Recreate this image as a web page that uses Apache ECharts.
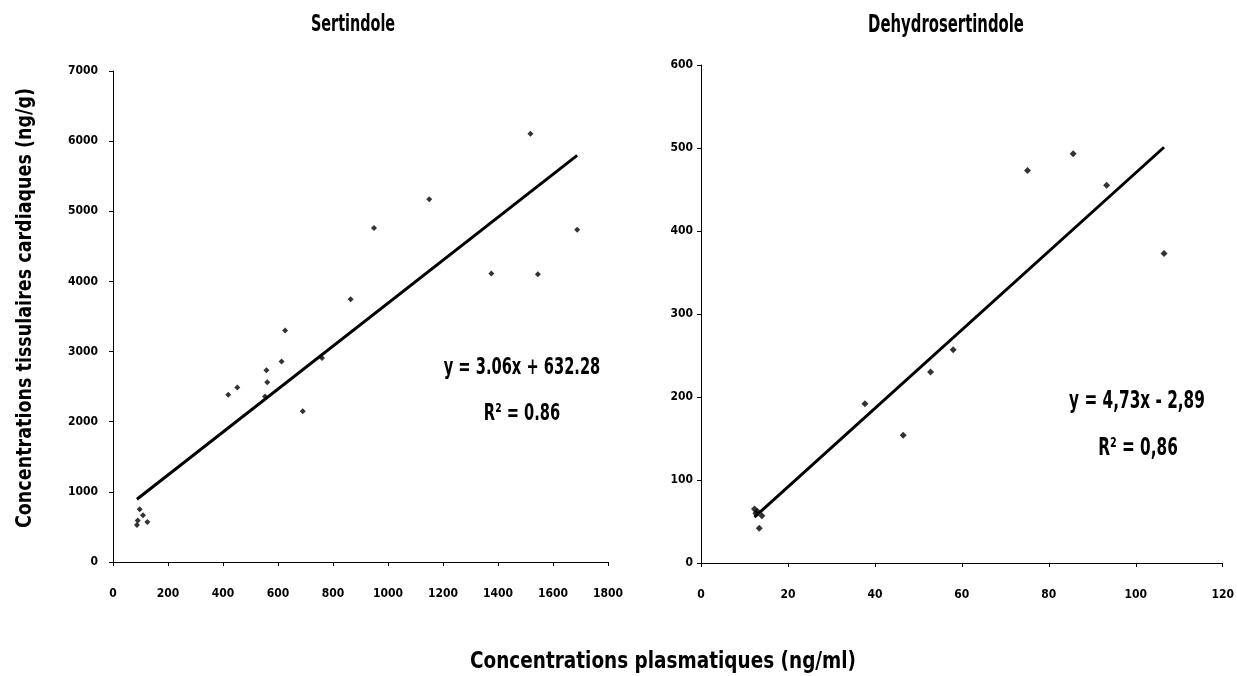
<!DOCTYPE html>
<html>
<head>
<meta charset="utf-8">
<script src="https://cdn.jsdelivr.net/npm/echarts@6/dist/echarts.min.js"></script>
<style>
html,body{margin:0;padding:0;background:#fff;}
#c{width:1237px;height:676px;}
</style>
</head>
<body>
<div id="c"></div>
<script>
// Sertindole: plasma (ng/ml) vs cardiac tissue (ng/g)
const sertX = [1518, 1150, 949, 1688, 1376, 1545, 864, 626, 613, 760, 558, 561, 553, 452, 419, 690, 97, 109, 90, 125, 87];
const sertY = [6105, 5170, 4763, 4738, 4113, 4102, 3747, 3299, 2857, 2908, 2735, 2562, 2359, 2486, 2384, 2150, 752, 666, 590, 569, 529];
const sertTrendX = [87, 1688];
const sertTrendY = [895, 5798];

// Dehydrosertindole
const dehX = [85.6, 75.1, 93.3, 106.5, 58.0, 52.8, 37.7, 46.5, 12.3, 13.0, 14.0, 13.4, 12.6];
const dehY = [493, 473, 455, 373, 257, 230, 192, 154, 65, 62, 57, 42, 60];
const dehTrendX = [12.3, 106.5];
const dehTrendY = [55.3, 500.9];

const titles = ['Sertindole', 'Dehydrosertindole'];
const eqLeft = ['y = 3.06x + 632.28', 'R² = 0.86'];
const eqRight = ['y = 4,73x - 2,89', 'R² = 0,86'];
const yName = 'Concentrations tissulaires cardiaques (ng/g)';
const xName = 'Concentrations plasmatiques (ng/ml)';

const zip = (a, b) => a.map((v, i) => [v, b[i]]);
const FONT = '"Liberation Sans Narrow", "DejaVu Sans Condensed", "Liberation Sans", sans-serif';

const chart = echarts.init(document.getElementById('c'));
const lbl = (m) => ({ color: '#000', fontFamily: FONT, fontWeight: 'bold', fontSize: 12, margin: m, formatter: v => String(v) });
const axisBase = {
  axisLine: { show: true, lineStyle: { color: '#000', width: 1 } },
  axisTick: { show: true, inside: false, length: 4, lineStyle: { color: '#000' } },
  splitLine: { show: false }
};
const txt = (x, y, s, size, sy, rot) => ({
  type: 'text', x: x, y: y, rotation: rot || 0, scaleY: sy || 1,
  style: { text: s, font: 'bold ' + size + 'px ' + FONT, fill: '#000', textAlign: 'center', textVerticalAlign: 'middle' }
});
chart.setOption({
  backgroundColor: '#fff',
  animation: false,
  grid: [
    { left: 113, width: 495, top: 71, height: 491 },
    { left: 701, width: 522, top: 65, height: 498 }
  ],
  xAxis: [
    Object.assign({ type: 'value', gridIndex: 0, min: 0, max: 1800, interval: 200, axisLabel: lbl(26) }, axisBase),
    Object.assign({ type: 'value', gridIndex: 1, min: 0, max: 120, interval: 20, axisLabel: lbl(26) }, axisBase)
  ],
  yAxis: [
    Object.assign({ type: 'value', gridIndex: 0, min: 0, max: 7000, interval: 1000, axisLabel: lbl(15) }, axisBase),
    Object.assign({ type: 'value', gridIndex: 1, min: 0, max: 600, interval: 100, axisLabel: lbl(8) }, axisBase)
  ],
  series: [
    { type: 'scatter', xAxisIndex: 0, yAxisIndex: 0, data: zip(sertX, sertY), symbol: 'diamond', symbolSize: 6, itemStyle: { color: '#000' } },
    { type: 'line', xAxisIndex: 0, yAxisIndex: 0, data: zip(sertTrendX, sertTrendY), symbol: 'none', lineStyle: { color: '#000', width: 3 } },
    { type: 'scatter', xAxisIndex: 1, yAxisIndex: 1, data: zip(dehX, dehY), symbol: 'diamond', symbolSize: 7, itemStyle: { color: '#000' } },
    { type: 'line', xAxisIndex: 1, yAxisIndex: 1, data: zip(dehTrendX, dehTrendY), symbol: 'none', lineStyle: { color: '#000', width: 3 } }
  ],
  graphic: [
    txt(353, 25, titles[0], 16, 1.45),
    txt(946, 26, titles[1], 16.5, 1.45),
    txt(522, 368, eqLeft[0], 16.3, 1.45),
    txt(522, 414, eqLeft[1], 16.3, 1.45),
    txt(1137, 402, eqRight[0], 17, 1.45),
    txt(1138, 449, eqRight[1], 17, 1.45),
    txt(663, 662, xName, 20.5, 1.15),
    txt(25, 308, yName, 19.5, 1.1, Math.PI / 2)
  ]
});
</script>
</body>
</html>
